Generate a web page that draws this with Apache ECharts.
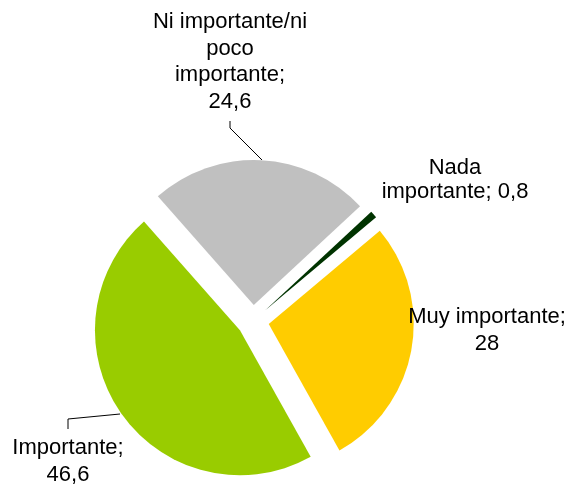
<!DOCTYPE html>
<html>
<head>
<meta charset="utf-8">
<style>
  html, body { margin: 0; padding: 0; background: #fff; }
  #chart { width: 571px; height: 485px; }
</style>
<script src="https://cdn.jsdelivr.net/npm/echarts@6/dist/echarts.min.js"></script>
</head>
<body>
<div id="chart"></div>
<script>
// Slice names (line breaks as set in the labels), values and colours
const categories = ['Muy importante', 'Importante', 'Ni importante/ni\npoco\nimportante', 'Nada\nimportante'];
const values = [28, 46.6, 24.6, 0.8];
const colors = ['#FFCC00', '#99CC00', '#C0C0C0', '#003300'];
// separator between the name and the value in each label
const valueSeparators = ['\n', '\n', '\n', ' '];

// Pie geometry
const CENTER = [253, 321];
const RADIUS = 145;
const START_ANGLE = 40;     // degrees, counter-clockwise from 3 o'clock
const EXPLODE = 16;         // distance each slice is pulled out

// Label anchor points (centre of each text block) and leader-line paths
const labelAnchors = [
  { x: 487, y: 330, lineHeight: 27 },
  { x: 68, y: 461, lineHeight: 27 },
  { x: 230, y: 62, lineHeight: 26.5 },
  { x: 455, y: 180, lineHeight: 24 }
];
const leaderPaths = [
  null,
  [[120, 414], [68, 419], [68, 429]],
  [[262, 160], [230, 128], [230, 121]],
  null
];

const total = values.reduce((s, v) => s + v, 0);

function labelText(i) {
  return categories[i] + ';' + valueSeparators[i] + String(values[i]).replace('.', ',');
}

// One pie per slice: every pie holds the full data so the angles come out the
// same, only its own slice is painted, and its centre is pushed out along the
// slice's bisector to separate the slices.
let cumulative = 0;
const series = values.map((v, k) => {
  const midDeg = START_ANGLE - (cumulative + v / 2) / total * 360;
  cumulative += v;
  const rad = midDeg * Math.PI / 180;
  const cx = CENTER[0] + EXPLODE * Math.cos(rad);
  const cy = CENTER[1] - EXPLODE * Math.sin(rad);

  const data = categories.map((name, i) => {
    const own = i === k;
    return {
      name: name,
      value: values[i],
      itemStyle: { color: own ? colors[i] : 'rgba(0,0,0,0)', borderWidth: 0 },
      label: { show: own, lineHeight: labelAnchors[i].lineHeight },
      labelLine: { show: own && leaderPaths[i] !== null }
    };
  });

  return {
    type: 'pie',
    center: [cx, cy],
    radius: RADIUS,
    startAngle: START_ANGLE,
    clockwise: true,
    avoidLabelOverlap: false,
    silent: true,
    emphasis: { disabled: true },
    data: data,
    label: {
      position: 'outside',
      color: '#000000',
      fontFamily: 'Liberation Sans, Arial, sans-serif',
      fontSize: 22,
      align: 'center',
      formatter: function (p) { return labelText(p.dataIndex); }
    },
    labelLine: {
      lineStyle: { color: '#000000', width: 1 }
    },
    labelLayout: function (params) {
      const i = params.dataIndex;
      const a = labelAnchors[i];
      const out = { x: a.x, y: a.y, align: 'center', verticalAlign: 'middle' };
      if (leaderPaths[i]) out.labelLinePoints = leaderPaths[i];
      return out;
    }
  };
});

const chart = echarts.init(document.getElementById('chart'), null, { renderer: 'canvas' });
chart.setOption({
  animation: false,
  backgroundColor: '#ffffff',
  series: series
});
</script>
</body>
</html>
